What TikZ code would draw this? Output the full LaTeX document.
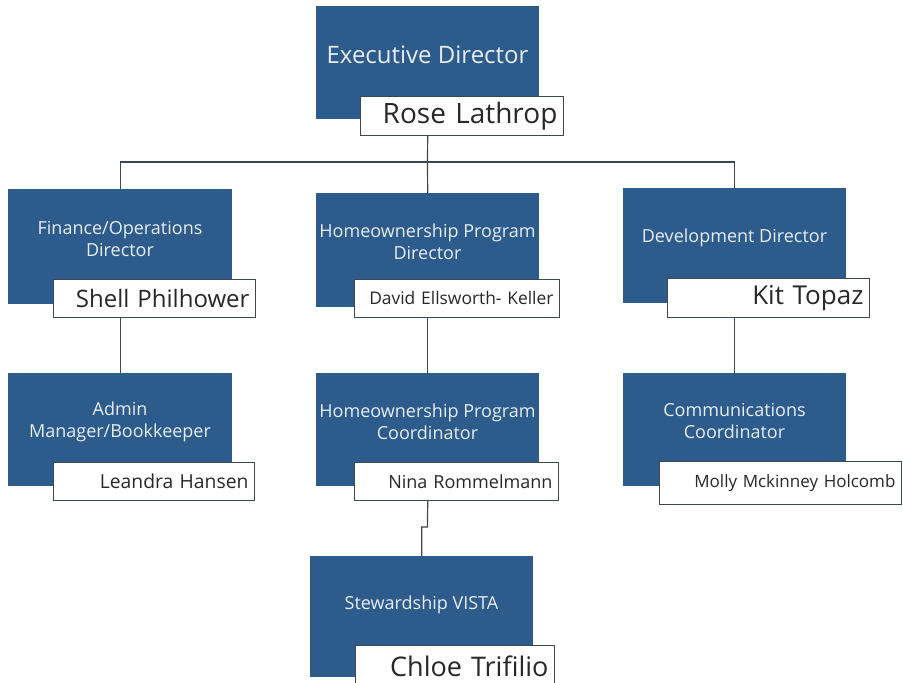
\documentclass[tikz,border=0pt]{standalone}
\usepackage{fontspec}
\setmainfont{Open Sans}
\definecolor{boxblue}{RGB}{44,91,140}
\definecolor{linegray}{RGB}{60,70,85}
\definecolor{titlewhite}{RGB}{232,238,245}
\definecolor{nametext}{RGB}{40,40,40}
\begin{document}
\begin{tikzpicture}[x=1pt,y=-1pt,
  bluebox/.style={fill=boxblue, draw=none, anchor=north west, inner sep=0pt},
  namebox/.style={fill=white, draw=linegray, line width=0.9pt, anchor=north west, inner xsep=6pt, inner ysep=0pt, align=right, text=nametext},
  title/.style={text=titlewhite, align=center, inner sep=0pt, font=\fontsize{18}{22}\selectfont},
  conn/.style={draw=linegray, line width=1.2pt}]
\useasboundingbox (0,0) rectangle (903,683);
\fill[white] (0,0) rectangle (903,683);

\coordinate (bus) at (427.5,162);

% Executive
\node[bluebox, minimum width=223pt, minimum height=113pt] (ed) at (316,6) {};
\node[title, font=\fontsize{24}{26}\selectfont] (edt) at (427.5,55) {Executive Director};
% level 2
\node[bluebox, minimum width=224pt, minimum height=115pt] (fin) at (8,189) {};
\node[title] (fint) at (120,239) {Finance/Operations\\Director};
\node[bluebox, minimum width=223pt, minimum height=114pt] (hpd) at (316,193) {};
\node[title] (hpdt) at (427.5,242) {Homeownership Program\\Director};
\node[bluebox, minimum width=223pt, minimum height=115pt] (dev) at (623,188) {};
\node[title] (devt) at (734.5,238) {Development Director};
% level 3
\node[bluebox, minimum width=224pt, minimum height=113pt] (adm) at (8,373) {};
\node[title] (admt) at (120,422) {Admin\\Manager/Bookkeeper};
\node[bluebox, minimum width=223pt, minimum height=113pt] (hpc) at (316,373) {};
\node[title] (hpct) at (427.5,422) {Homeownership Program\\Coordinator};
\node[bluebox, minimum width=223pt, minimum height=113pt] (com) at (623,373) {};
\node[title] (comt) at (734.5,421) {Communications\\Coordinator};
% level 4
\node[bluebox, minimum width=223pt, minimum height=121pt] (vis) at (310,556) {};
\node[title] (vist) at (421.5,605) {Stewardship VISTA};

% name boxes
\node[namebox, text width=191pt, minimum height=39pt, font=\fontsize{28}{30}\selectfont] (edn) at (360,96) {Rose Lathrop};
\node[namebox, text width=190pt, minimum height=38pt, font=\fontsize{24}{26}\selectfont] (finn) at (53,279) {Shell Philhower};
\node[namebox, text width=193pt, minimum height=38pt, font=\fontsize{17.4}{19}\selectfont] (hpdn) at (354,279) {David Ellsworth- Keller};
\node[namebox, text width=190pt, minimum height=39pt, font=\fontsize{26}{28}\selectfont] (devn) at (667,278) {Kit Topaz};
\node[namebox, text width=189pt, minimum height=38pt, font=\fontsize{19.3}{21}\selectfont] (admn) at (53,462) {Leandra Hansen};
\node[namebox, text width=192pt, minimum height=38pt, font=\fontsize{18}{20}\selectfont] (hpcn) at (354,462) {Nina Rommelmann};
\node[namebox, text width=230pt, minimum height=43pt, font=\fontsize{17}{19}\selectfont] (comn) at (659,461) {Molly Mckinney Holcomb};
\node[namebox, text width=187pt, minimum height=42pt, font=\fontsize{27}{29}\selectfont] (visn) at (355,645) {Chloe Trifilio};

% connectors
\draw[conn] (ed.south |- edn.south) -- (bus);
\draw[conn] (fin.north) |- (bus) -| (dev.north);
\draw[conn] (bus) -- (hpd.north);
\draw[conn] (fin.south |- finn.south) -- (adm.north);
\draw[conn] (hpd.south |- hpdn.south) -- (hpc.north);
\draw[conn] (dev.south |- devn.south) -- (com.north);
\coordinate (jog) at (427.5,527);
\draw[conn] (hpc.south |- hpcn.south) -- (jog) -| (vis.north);
\end{tikzpicture}
\end{document}
